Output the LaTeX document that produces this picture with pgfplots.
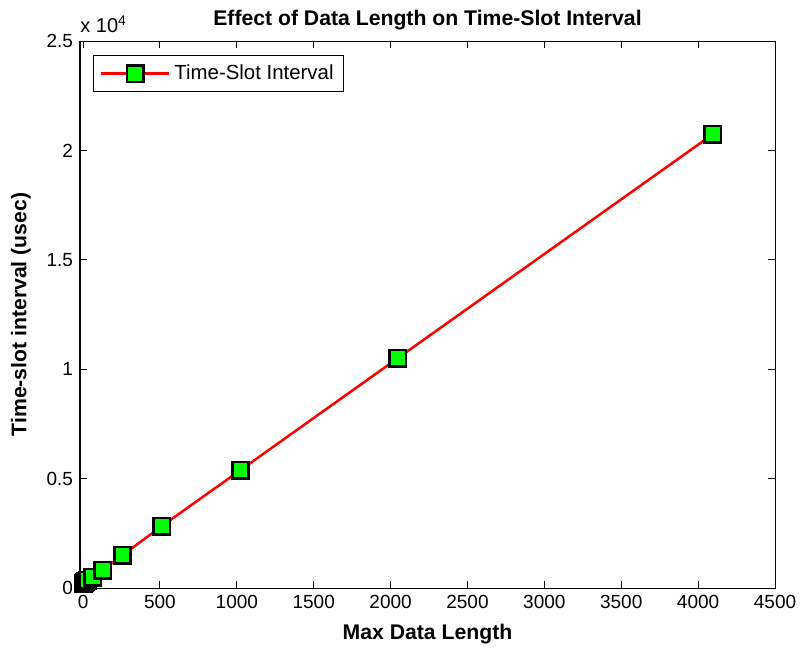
\documentclass[border=0pt]{standalone}
\usepackage{fontspec}
\setmainfont{Liberation Sans}
\usepackage{pgfplots}
\pgfplotsset{compat=1.18}
\definecolor{mgreen}{RGB}{0,255,0}
\begin{document}
\begin{tikzpicture}
\begin{axis}[
  scale only axis,
  width=347.5pt, height=273.5pt,
  xmin=-20, xmax=4500,
  ymin=0, ymax=25000,
  xtick={0,500,...,4500},
  ytick={0,5000,10000,15000,20000,25000},
  yticklabels={0,0.5,1,1.5,2,2.5},
  scaled x ticks=false, scaled y ticks=false,
  /pgf/number format/assume math mode=true,
  /pgf/number format/set thousands separator={},
  tick align=inside,
  major tick length=3.5pt,
  axis line style={line width=0.5pt},
  every tick/.style={black, line width=0.5pt},
  tick label style={font=\fontsize{9.5}{11}\selectfont},
  xlabel={\bfseries Max Data Length},
  ylabel={\bfseries Time-slot interval (usec)},
  label style={font=\fontsize{10.6}{12}\selectfont},
  xlabel style={yshift=-1pt},
  ylabel style={yshift=1pt},
  title={\bfseries Effect of Data Length on Time-Slot Interval},
  title style={font=\fontsize{10.6}{12}\selectfont, yshift=-4pt},
  legend style={at={(0.019,0.974)}, anchor=north west, draw=black, line width=0.5pt,
    font=\fontsize{10.2}{12}\selectfont, inner xsep=3pt, inner ysep=2.5pt},
  legend cell align=left,
  legend image code/.code={
    \draw[mark repeat=2,mark phase=2,#1] plot coordinates {(0cm,0cm) (0.6cm,0cm) (1.2cm,0cm)};
  },
  clip=false,
]
\addplot[red, line width=1.25pt, mark=square*, mark size=4.1pt,
  mark options={fill=mgreen, draw=black, line width=1.3pt, solid}]
  coordinates {
  (1,205) (2,210) (4,220) (8,240) (16,280) (32,360) (64,500)
  (128,820) (256,1500) (512,2830) (1024,5390) (2048,10510) (4096,20740)
  };
\addlegendentry{Time-Slot Interval}
\end{axis}
\node[anchor=south west, font=\fontsize{10}{11}\selectfont, inner sep=0pt] at ([xshift=0pt,yshift=4pt]current axis.north west) {x 10\textsuperscript{4}};
\pgfresetboundingbox
\path ([xshift=-40pt,yshift=-30.5pt]current axis.south west) rectangle ([xshift=12.5pt,yshift=20.5pt]current axis.north east);
\end{tikzpicture}
\end{document}
